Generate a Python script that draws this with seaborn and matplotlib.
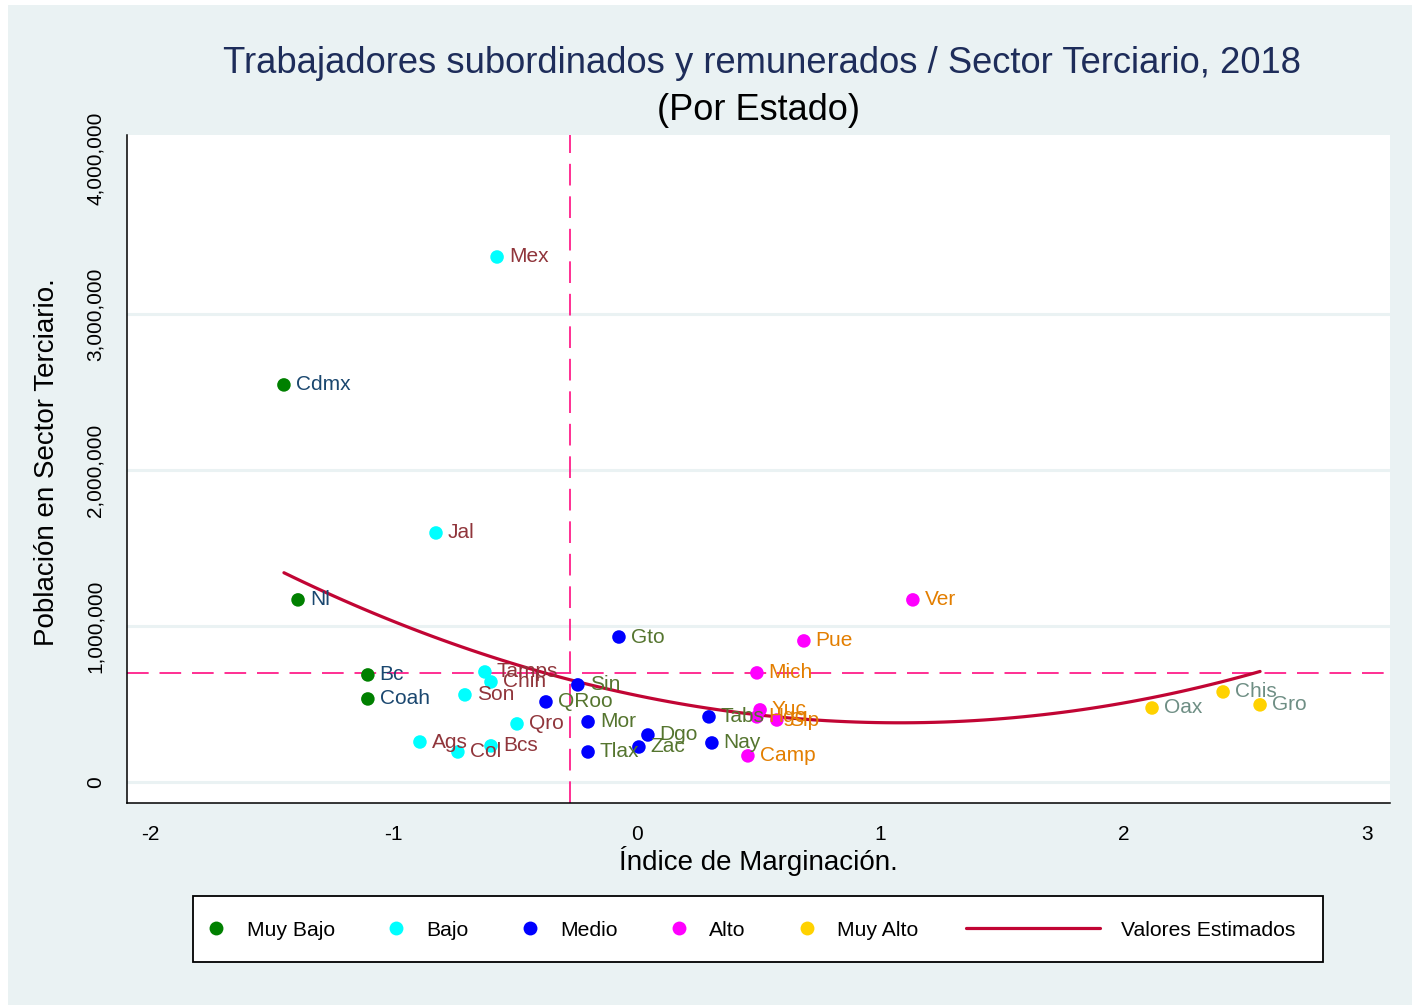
import numpy as np
import pandas as pd
import matplotlib
matplotlib.use("Agg")
import matplotlib.pyplot as plt
import seaborn as sns
from matplotlib.lines import Line2D
from matplotlib.patches import Rectangle
from matplotlib.ticker import FuncFormatter

# --- data -----------------------------------------------------------------
estados = ["Cdmx", "Nl", "Bc", "Coah",
           "Mex", "Jal", "Tamps", "Chih", "Son", "Qro", "Ags", "Col", "Bcs",
           "Gto", "Sin", "QRoo", "Mor", "Tlax", "Dgo", "Zac", "Tabs", "Nay",
           "Ver", "Pue", "Mich", "Yuc", "Hgo", "Slp", "Camp",
           "Oax", "Chis", "Gro"]
grado = (["Muy Bajo"] * 4 + ["Bajo"] * 9 + ["Medio"] * 9 +
         ["Alto"] * 7 + ["Muy Alto"] * 3)
indice = [-1.451, -1.393, -1.106, -1.106,
          -0.575, -0.826, -0.625, -0.600, -0.707, -0.493, -0.892, -0.736, -0.600,
          -0.074, -0.243, -0.374, -0.201, -0.201, 0.045, 0.008, 0.296, 0.308,
          1.134, 0.686, 0.493, 0.506, 0.493, 0.575, 0.456,
          2.117, 2.409, 2.561]
poblacion = [2545000, 1167000, 686000, 532000,
             3365000, 1596000, 705000, 641000, 558000, 372000, 256000, 192000, 231000,
             929000, 622000, 513000, 385000, 192000, 301000, 224000, 417000, 250000,
             1167000, 904000, 699000, 462000, 417000, 397000, 167000,
             474000, 577000, 494000]

niveles = ["Muy Bajo", "Bajo", "Medio", "Alto", "Muy Alto"]
color_punto = ["#008000", "#00ffff", "#0000ff", "#ff00ff", "#ffd200"]
color_etiqueta = ["#1a476f", "#90353b", "#55752f", "#e37e00", "#6e8e84"]
linea_vertical = -0.275
y_ticks = [0, 1000000, 2000000, 3000000, 4000000]
x_ticks = [-2, -1, 0, 1, 2, 3]

df = pd.DataFrame({"estado": estados, "grado": grado,
                   "indice": indice, "poblacion": poblacion})

# --- figure ---------------------------------------------------------------
sns.set_theme(style="white")
plt.rcParams["font.family"] = ["Liberation Sans", "DejaVu Sans"]
plt.rcParams["axes.unicode_minus"] = False

bg = "#eaf2f3"
fig = plt.figure(figsize=(14.12, 10.05), dpi=100, facecolor="white")
fig.add_artist(Rectangle((8 / 1412, 0), 1, 1 - 5 / 1005,
                         transform=fig.transFigure, facecolor=bg,
                         edgecolor="none", zorder=-10))
ax = fig.add_axes([127 / 1412, 1 - 803 / 1005, 1263 / 1412, 668 / 1005])
ax.set_facecolor("white")

for v in y_ticks[:-1]:
    ax.axhline(v, color=bg, lw=2.2, zorder=0)

# quadratic fit over all states
sns.regplot(data=df, x="indice", y="poblacion", order=2, ci=None,
            scatter=False, truncate=True, ax=ax,
            line_kws={"color": "#c10534", "lw": 2.3, "zorder": 3})

# reference lines
ax.axvline(linea_vertical, color="#ff1f8a", lw=1.3, dashes=(12, 6), zorder=2)
ax.axhline(df["poblacion"].mean(), color="#ff1f8a", lw=1.3, dashes=(12, 6),
           zorder=2)

sns.scatterplot(data=df, x="indice", y="poblacion", hue="grado",
                hue_order=niveles, palette=color_punto, s=95,
                edgecolor="none", legend=False, ax=ax, zorder=4)

lab_col = dict(zip(niveles, color_etiqueta))
for _, r in df.iterrows():
    ax.annotate(r["estado"], (r["indice"], r["poblacion"]),
                xytext=(8.5, 0), textcoords="offset points",
                ha="left", va="center", fontsize=15,
                color=lab_col[r["grado"]], zorder=5)

ax.set_xlim(-2.096, 3.095)
ax.set_ylim(-135000, 4147000)
ax.set_xticks(x_ticks)
ax.set_yticks(y_ticks)
ax.yaxis.set_major_formatter(FuncFormatter(lambda v, p: f"{int(v):,}"))
ax.tick_params(axis="both", direction="out", length=10, width=1.1,
               color="black", labelsize=15, labelcolor="black", pad=6)
for lbl in ax.get_yticklabels():
    lbl.set_rotation(90)
    lbl.set_va("center")
for s in ["top", "right"]:
    ax.spines[s].set_visible(False)
for s in ["left", "bottom"]:
    ax.spines[s].set_color("black")
    ax.spines[s].set_linewidth(1.1)

ax.set_xlabel("Índice de Marginación.", fontsize=20, color="black")
ax.set_ylabel("Población en Sector Terciario.", fontsize=20, color="black")
ax.xaxis.set_label_coords(0.5, -0.065)
ax.yaxis.set_label_coords(-0.053, 0.51)

fig.text(0.540, 0.937,
         "Trabajadores subordinados y remunerados / Sector Terciario, 2018",
         ha="center", va="center", fontsize=26.2, color="#1e2d5a")
fig.text(0.537, 0.890, "(Por Estado)", ha="center", va="center",
         fontsize=26, color="black")

# legend
fig.add_artist(Rectangle((193 / 1412, 1 - 962 / 1005), 1130 / 1412, 66 / 1005,
                         transform=fig.transFigure, facecolor="white",
                         edgecolor="black", lw=1.3, zorder=5))
dot_handles = [Line2D([], [], marker="o", ls="none", markersize=10,
                      markerfacecolor=c, markeredgecolor="none")
               for c in color_punto]
leg1 = fig.legend(dot_handles, niveles, loc="center left",
                  bbox_to_anchor=(205.6 / 1412, 1 - 930 / 1005),
                  frameon=False, ncol=5, fontsize=15.2, handlelength=1.0,
                  handletextpad=0.94, columnspacing=2.4, borderpad=0,
                  borderaxespad=0, numpoints=1)
leg1.set_zorder(6)
line_handle = Line2D([], [], color="#c10534", lw=2.3)
leg2 = fig.legend([line_handle], ["Valores Estimados"], loc="center left",
                  bbox_to_anchor=(966 / 1412, 1 - 930 / 1005),
                  frameon=False, fontsize=15.2, handlelength=6.35,
                  handletextpad=1.0, borderpad=0, borderaxespad=0)
leg2.set_zorder(6)
for t in leg1.get_texts() + leg2.get_texts():
    t.set_color("black")

fig.savefig("out.png", dpi=100, facecolor="white")
